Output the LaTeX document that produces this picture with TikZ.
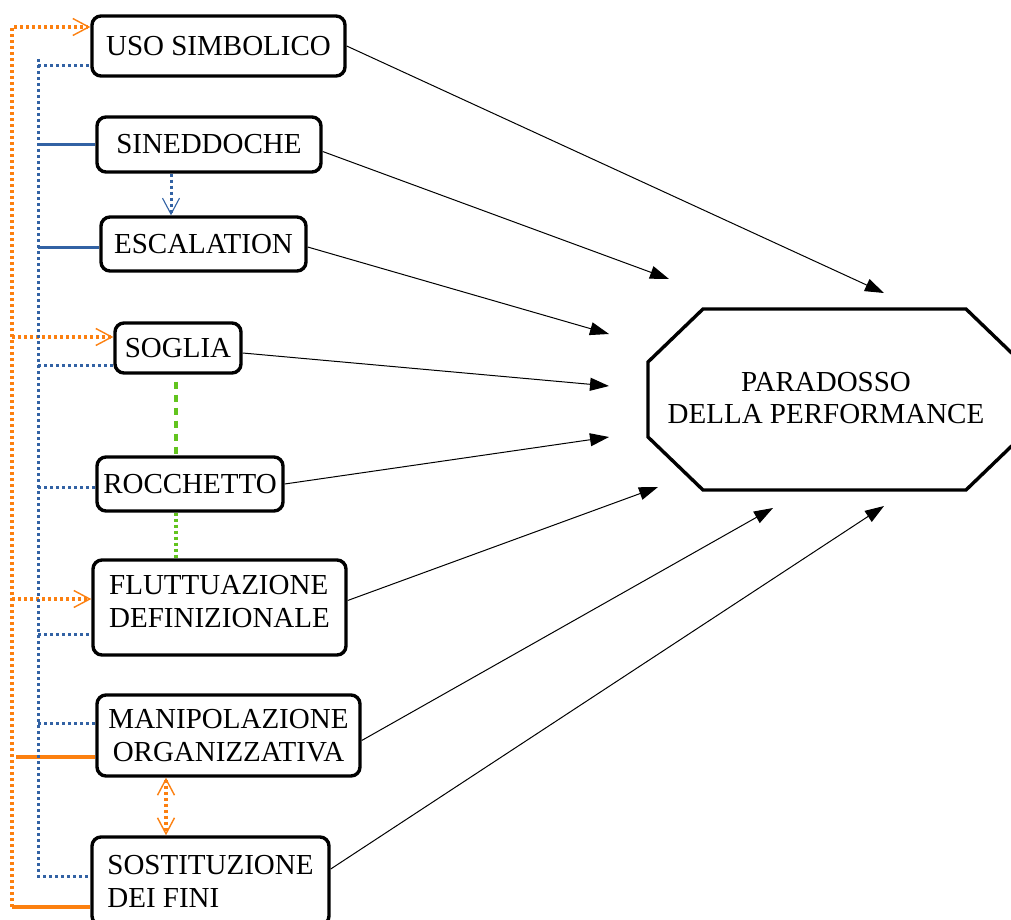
\documentclass[tikz,border=0pt]{standalone}
\usepackage{fontspec}
\setmainfont{Liberation Serif}
\usetikzlibrary{arrows.meta,calc}
\definecolor{orng}{RGB}{252,128,16}
\definecolor{blu}{RGB}{50,98,164}
\definecolor{grn}{RGB}{98,196,30}
\tikzset{
  box/.style={draw, line width=3.4pt, rounded corners=9pt, inner sep=0pt, fill=white,
    font=\fontsize{29}{33}\selectfont},
  blk/.style={line width=1pt, -{Triangle[length=19pt,width=13pt]}},
  openhead/.style={-{Straight Barb[length=16pt,width=17pt,line width=1.4pt]}},
  odot/.style={orng, line width=3.4pt, dash pattern=on 3pt off 3pt},
  osol/.style={orng, line width=3.2pt},
  bdot/.style={blu, line width=3pt, dash pattern=on 3pt off 3pt},
  bsol/.style={blu, line width=3pt},
  gdash/.style={grn, line width=3.4pt, dash pattern=on 7pt off 6pt},
  gdot/.style={grn, line width=3.4pt, dash pattern=on 3pt off 3pt},
}
\begin{document}
\begin{tikzpicture}[x=1pt,y=-1pt]
\useasboundingbox (0,0) rectangle (1011,920);
% boxes
\node[box, minimum width=253pt, minimum height=60pt] (uso) at (218.5,46) {USO SIMBOLICO};
\node[box, minimum width=224pt, minimum height=55pt] (sin) at (209,144.5) {SINEDDOCHE};
\node[box, minimum width=205pt, minimum height=54pt] (esc) at (203.5,244) {ESCALATION};
\node[box, minimum width=126pt, minimum height=50pt] (sog) at (178,348) {SOGLIA};
\node[box, minimum width=186pt, minimum height=54pt] (roc) at (190,484) {ROCCHETTO};
\node[box, minimum width=253pt, minimum height=95pt, align=left, text depth=13pt] (flu) at (219.5,607.5) {FLUTTUAZIONE\\DEFINIZIONALE};
\node[box, minimum width=263pt, minimum height=81pt, align=center] (man) at (228.5,735.5) {MANIPOLAZIONE\\ORGANIZZATIVA};
\node[box, minimum width=237pt, minimum height=88pt, align=left] (sos) at (210.5,881) {SOSTITUZIONE\\DEI FINI};
% octagon
\draw[line width=3.4pt, line join=miter] (703,309) -- (966,309) -- (1021,362) -- (1021,437) -- (966,490) -- (703,490) -- (648,437) -- (648,362) -- cycle;
\node[align=center, font=\fontsize{29}{32}\selectfont, inner sep=0pt] (par) at (826,398) {PARADOSSO\\DELLA PERFORMANCE};
% arrow tips near octagon
\coordinate (t1) at (884,293);
\coordinate (t2) at (669,279);
\coordinate (t3) at (609,334);
\coordinate (t4) at (609,386);
\coordinate (t5) at (609,437);
\coordinate (t6) at (658,487);
\coordinate (t7) at (773,508);
\coordinate (t8) at (884,506);
\draw[blk] (uso.east) -- (t1);
\draw[blk] ([yshift=-7pt]sin.east) -- (t2);
\draw[blk] ([yshift=-3pt]esc.east) -- (t3);
\draw[blk] ([yshift=-5pt]sog.east) -- (t4);
\draw[blk] (roc.east) -- (t5);
\draw[blk] ([yshift=7pt]flu.east) -- (t6);
\draw[blk] ([yshift=-5pt]man.east) -- (t7);
\draw[blk] ([yshift=12pt]sos.east) -- (t8);
% orange left lines
\coordinate (ot) at (12,27);
\coordinate (ob) at (12,907);
\coordinate (os) at (12,337);
\coordinate (of) at (12,599);
\coordinate (om) at (16,757);
\draw[odot, openhead] (ob) -- (ot) -- (ot -| uso.west);
\draw[odot, openhead] (os) -- (os -| sog.west);
\draw[odot, openhead] (of) -- (of -| flu.west);
\draw[osol] (om) -- (om -| man.west);
\draw[osol] (ob) -- (ob -| sos.west);
% blue left lines
\coordinate (bt) at (38,59);
\coordinate (bu) at (38,66);
\coordinate (bb) at (38,876);
\coordinate (b2) at (38,145);
\coordinate (b3) at (38,247);
\coordinate (b4) at (38,365);
\coordinate (b5) at (38,487);
\coordinate (b6) at (38,634);
\coordinate (b7) at (38,723);
\draw[bdot] (bt) -- (bb) -- (bb -| sos.west);
\draw[bdot] (bu) -- (bu -| uso.west);
\draw[bsol] (b2) -- (b2 -| sin.west);
\draw[bsol] (b3) -- (b3 -| esc.west);
\draw[bdot] (b4) -- (b4 -| sog.west);
\draw[bdot] (b5) -- (b5 -| roc.west);
\draw[bdot] (b6) -- (b6 -| flu.west);
\draw[bdot] (b7) -- (b7 -| man.west);
% blue arrow sineddoche -> escalation
\coordinate (bx) at (171,0);
\draw[bdot, -{Straight Barb[length=16pt,width=17pt,line width=1.1pt]}] (bx |- sin.south) -- (bx |- esc.north);
% green
\coordinate (gx) at (176,0);
\draw[gdash] ($(gx |- sog.south)+(0,7)$) -- (gx |- roc.north);
\draw[gdot] (gx |- roc.south) -- (gx |- flu.north);
% orange double arrow
\coordinate (ox) at (166,0);
\draw[odot, {Straight Barb[length=16pt,width=17pt,line width=1.4pt]}-{Straight Barb[length=16pt,width=17pt,line width=1.4pt]}] (ox |- man.south) -- (ox |- sos.north);
\end{tikzpicture}
\end{document}
